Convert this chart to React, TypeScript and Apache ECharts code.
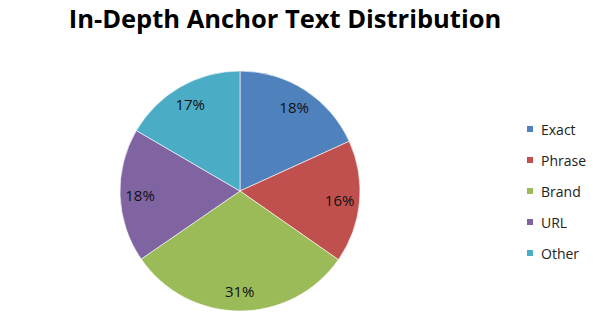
import React, { useEffect, useRef } from "react";
import * as echarts from "echarts";

const title = "In-Depth Anchor Text Distribution";
const categories = ["Exact", "Phrase", "Brand", "URL", "Other"];
const values = [18.2, 16.5, 30.7, 18.0, 16.6];
const colors = ["#4F81BD", "#C0504D", "#9BBB59", "#8064A2", "#4BACC6"];

export default function App() {
  const ref = useRef<HTMLDivElement>(null);
  useEffect(() => {
    document.body.style.margin = "0";
    const chart = echarts.init(ref.current!, null, { renderer: "svg" });
    const data = categories.map((name, i) => ({ name, value: values[i] }));
    const font = "Open Sans, Noto Sans, sans-serif";
    chart.setOption({
      animation: false,
      backgroundColor: "#ffffff",
      color: colors,
      title: {
        text: title,
        left: 280,
        textAlign: "center",
        top: 0,
        textStyle: { fontFamily: font, fontWeight: "bold", fontSize: 25.5, color: "#000" },
      },
      legend: {
        orient: "vertical",
        left: 525,
        top: 121,
        padding: 0,
        itemWidth: 8,
        itemHeight: 8,
        itemGap: 15,
        icon: "rect",
        data: categories,
        textStyle: { fontFamily: font, fontSize: 14, color: "#222", lineHeight: 16, padding: [0, 0, 0, 2] },
      },
      series: [
        {
          type: "pie",
          center: [240, 191],
          radius: [0, 120],
          startAngle: 90,
          clockwise: true,
          data,
          percentPrecision: 0,
          label: { show: false },
          labelLine: { show: false },
          itemStyle: { borderColor: "#ffffff", borderWidth: 0.6 },
          emphasis: { disabled: true },
        },
        {
          type: "pie",
          center: [240, 191],
          radius: [0, 194],
          startAngle: 90,
          clockwise: true,
          silent: true,
          legendHoverLink: false,
          data,
          percentPrecision: 0,
          itemStyle: { color: "rgba(0,0,0,0)", borderWidth: 0 },
          label: {
            show: true,
            position: "inside",
            formatter: "{d}%",
            fontFamily: font,
            fontSize: 15,
            color: "#111",
          },
          labelLine: { show: false },
          emphasis: { disabled: true },
        },
      ],
    });
    return () => chart.dispose();
  }, []);
  return <div ref={ref} style={{ position: "absolute", left: 0, top: 0, width: 597, height: 324 }} />;
}
